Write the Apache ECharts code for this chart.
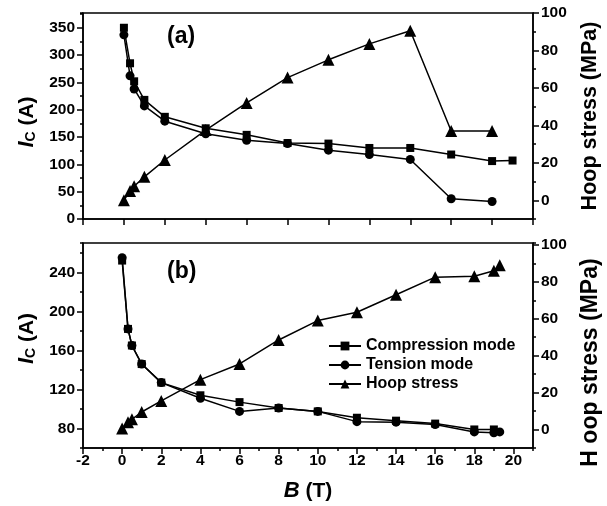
<!DOCTYPE html>
<html><head><meta charset="utf-8">
<script src="https://cdn.jsdelivr.net/npm/echarts@6/dist/echarts.min.js"></script>
<style>html,body{margin:0;padding:0;background:#fff}#c{width:607px;height:506px}</style>
</head><body><div id="c"></div>
<script>
// ---- Panel (a) data ----
const bCompA = [0, 0.3, 0.5, 1, 2, 4, 6, 8, 10, 12, 14, 16, 18, 19];
const compA  = [350, 285, 252, 218, 187, 166, 154, 139, 138, 130, 130, 118, 106, 107];
const bTensA = [0, 0.3, 0.5, 1, 2, 4, 6, 8, 10, 12, 14, 16, 18];
const tensA  = [337, 262, 238, 207, 179, 156, 144, 138, 126, 118, 109, 37, 32];
const bHoopA = [0, 0.3, 0.5, 1, 2, 4, 6, 8, 10, 12, 14, 16, 18];
const hoopA  = [0, 5, 7.5, 12.5, 21.5, 37.5, 52, 65.5, 75, 83.5, 90.5, 37, 37];
// ---- Panel (b) data ----
const bCompB = [0, 0.3, 0.5, 1, 2, 4, 6, 8, 10, 12, 14, 16, 18, 19];
const compB  = [252, 182, 165, 146, 127, 114, 107, 101, 97.5, 91, 88, 85, 79, 79];
const bTensB = [0, 0.3, 0.5, 1, 2, 4, 6, 8, 10, 12, 14, 16, 18, 19, 19.3];
const tensB  = [255, 182, 165, 146, 127, 111, 97.5, 101, 97.5, 87, 86.5, 84, 76.5, 75.5, 76.5];
const bHoopB = [0, 0.3, 0.5, 1, 2, 4, 6, 8, 10, 12, 14, 16, 18, 19, 19.3];
const hoopB  = [0.5, 4, 5.5, 9.5, 15.5, 27, 35.5, 48.5, 59, 63.5, 73, 82.5, 83, 86, 89];
// ---- tick labels ----
const xTicksB   = [-2, 0, 2, 4, 6, 8, 10, 12, 14, 16, 18, 20];
const yLeftA    = [0, 50, 100, 150, 200, 250, 300, 350];
const yLeftB    = [80, 120, 160, 200, 240];
const yRight    = [0, 20, 40, 60, 80, 100];
const seriesNames = ['Compression mode', 'Tension mode', 'Hoop stress'];

const FONT = "'Liberation Sans', Arial, sans-serif";
const lineStyle = {color:'#000', width:1.5};
const lblStyle = {color:'#000', fontFamily:FONT, fontWeight:'bold', fontSize:15.5};
const nameStyle = {color:'#000', fontFamily:FONT, fontWeight:'bold', fontSize:21};

function valAxis(o){
  return Object.assign({
    type:'value', splitLine:{show:false},
    axisLine:{show:true, onZero:false, lineStyle:lineStyle},
    axisTick:{show:true, inside:false, length:3, lineStyle:lineStyle},
    axisLabel:{show:false},
  }, o);
}
function overlay(o, ticks, len){
  return valAxis(Object.assign({}, o, {
    axisLine:{show:false, onZero:false},
    axisTick:{show:true, inside:false, length:len, lineStyle:lineStyle, customValues:ticks},
    axisLabel:{show:false}, name:''
  }));
}
const pair = (xs, ys) => xs.map((x,i)=>[x, ys[i]]);

const yLA = {gridIndex:0, position:'left', min:0, max:377, interval:25};
const yRA = {gridIndex:0, position:'right', min:-10, max:100, interval:10};
const yLB = {gridIndex:1, position:'left', min:60, max:270, interval:20};
const yRB = {gridIndex:1, position:'right', min:-10, max:101, interval:10};
const xB  = {gridIndex:1, position:'bottom', min:-2, max:21, interval:1};

const richI = {
  i:{fontStyle:'italic', fontWeight:'bold', fontSize:22, fontFamily:FONT, color:'#000'},
  s:{fontWeight:'bold', fontSize:14, fontFamily:FONT, color:'#000', padding:[8,0,0,0]},
  n:{fontWeight:'bold', fontSize:21, fontFamily:FONT, color:'#000'}
};

const option = {
  animation:false,
  backgroundColor:'#fff',
  grid:[
    {left:83, top:13, width:450, height:206, show:true, borderColor:'#000', borderWidth:1.5,
      backgroundColor:'transparent', containLabel:false, outerBoundsMode:'none'},
    {left:83, top:243, width:450, height:205, show:true, borderColor:'#000', borderWidth:1.5,
      backgroundColor:'transparent', containLabel:false, outerBoundsMode:'none'}
  ],
  xAxis:[
    valAxis({gridIndex:0, position:'bottom', min:-2, max:20, interval:2,
      axisTick:{show:true, length:6, lineStyle:lineStyle}}),
    valAxis(Object.assign({}, xB, {
      axisLabel:{show:true, customValues:xTicksB, margin:5, ...lblStyle},
      name:'{i|B}{n| (T)}', nameLocation:'middle', nameGap:32, nameTextStyle:{rich:richI}})),
    overlay(xB, xTicksB, 6)
  ],
  yAxis:[
    valAxis(Object.assign({}, yLA, {
      axisLabel:{show:true, customValues:yLeftA, margin:8, ...lblStyle},
      name:'{i|I}{s|C}{n| (A)}', nameLocation:'middle', nameRotate:90, nameGap:45,
      nameTextStyle:{rich:richI, padding:[0,12,0,0]}})),
    overlay(yLA, yLeftA, 6),
    valAxis(Object.assign({}, yRA, {
      axisLabel:{show:true, customValues:yRight, margin:8, ...lblStyle},
      name:'Hoop stress (MPa)', nameLocation:'middle', nameRotate:90, nameGap:46,
      nameTextStyle:Object.assign({}, nameStyle, {fontSize:21.5})})),
    overlay(yRA, yRight, 6),
    valAxis(Object.assign({}, yLB, {
      axisLabel:{show:true, customValues:yLeftB, margin:8, ...lblStyle},
      name:'{i|I}{s|C}{n| (A)}', nameLocation:'middle', nameRotate:90, nameGap:45,
      nameTextStyle:{rich:richI, padding:[0,0,0,14]}})),
    overlay(yLB, yLeftB, 6),
    valAxis(Object.assign({}, yRB, {
      axisLabel:{show:true, customValues:yRight, margin:8, ...lblStyle},
      name:'H oop stress (MPa)', nameLocation:'middle', nameRotate:90, nameGap:46,
      nameTextStyle:Object.assign({padding:[0,34,0,0]}, nameStyle, {fontSize:23})})),
    overlay(yRB, yRight, 6)
  ],
  legend:{
    show:true, left:323, top:333, orient:'vertical', itemWidth:32, itemHeight:11, itemGap:3,
    data:seriesNames,
    textStyle:{color:'#000', fontFamily:FONT, fontWeight:'bold', fontSize:16, lineHeight:16},
    inactiveColor:'#000'
  },
  graphic:[
    {type:'text', left:167, top:25, style:{text:'(a)', font:"bold 23px 'Liberation Sans', Arial", fill:'#000'}},
    {type:'text', left:167, top:260, style:{text:'(b)', font:"bold 23px 'Liberation Sans', Arial", fill:'#000'}}
  ],
  series:[
    {name:seriesNames[0], type:'line', xAxisIndex:0, yAxisIndex:0, data:pair(bCompA, compA),
      symbol:'rect', symbolSize:8, lineStyle:lineStyle, itemStyle:{color:'#000'}},
    {name:seriesNames[1], type:'line', xAxisIndex:0, yAxisIndex:0, data:pair(bTensA, tensA),
      symbol:'circle', symbolSize:9, lineStyle:lineStyle, itemStyle:{color:'#000'}},
    {name:seriesNames[2], type:'line', xAxisIndex:0, yAxisIndex:2, data:pair(bHoopA, hoopA),
      symbol:'triangle', symbolSize:12, lineStyle:lineStyle, itemStyle:{color:'#000'}},
    {name:seriesNames[0], type:'line', xAxisIndex:1, yAxisIndex:4, data:pair(bCompB, compB),
      symbol:'rect', symbolSize:8, lineStyle:lineStyle, itemStyle:{color:'#000'}},
    {name:seriesNames[1], type:'line', xAxisIndex:1, yAxisIndex:4, data:pair(bTensB, tensB),
      symbol:'circle', symbolSize:9, lineStyle:lineStyle, itemStyle:{color:'#000'}},
    {name:seriesNames[2], type:'line', xAxisIndex:1, yAxisIndex:6, data:pair(bHoopB, hoopB),
      symbol:'triangle', symbolSize:12, lineStyle:lineStyle, itemStyle:{color:'#000'}}
  ]
};
const chart = echarts.init(document.getElementById('c'), null, {renderer:'canvas'});
chart.setOption(option);
</script></body></html>
